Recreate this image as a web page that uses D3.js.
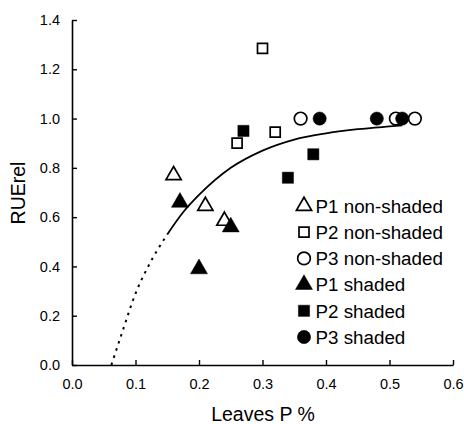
<!DOCTYPE html>
<html>
<head>
<script src="https://d3js.org/d3.v7.min.js"></script>
<style>
  body { margin: 0; background: #fff; }
  text { font-family: "Liberation Sans", Arial, sans-serif; fill: #000; }
</style>
</head>
<body>
<script>
// data
var p1Open   = [[0.16, 0.77], [0.21, 0.645], [0.24, 0.585]];
var p2Open   = [[0.30, 1.285], [0.26, 0.90], [0.32, 0.945]];
var p3Open   = [[0.36, 1.0], [0.51, 1.0], [0.54, 1.0]];
var p1Filled = [[0.17, 0.66], [0.20, 0.39], [0.25, 0.56]];
var p2Filled = [[0.27, 0.95], [0.34, 0.76], [0.38, 0.855]];
var p3Filled = [[0.39, 1.0], [0.48, 1.0], [0.52, 1.0]];

// fitted curve
var curveDotted = [[0.062, 0.0], [0.08, 0.14], [0.10, 0.29], [0.12, 0.40], [0.15, 0.53]];
var curveSolid  = [[0.15, 0.53], [0.175, 0.62], [0.2, 0.69], [0.25, 0.80], [0.3, 0.87],
                   [0.35, 0.915], [0.4, 0.94], [0.45, 0.957], [0.5, 0.968], [0.52, 0.972]];

var xTicks = [0, 0.1, 0.2, 0.3, 0.4, 0.5, 0.6];
var yTicks = [0, 0.2, 0.4, 0.6, 0.8, 1.0, 1.2, 1.4];
var legendLabels = ["P1 non-shaded", "P2 non-shaded", "P3 non-shaded",
                    "P1 shaded", "P2 shaded", "P3 shaded"];

var width = 464, height = 424;
var svg = d3.select("body").append("svg")
    .attr("width", width)
    .attr("height", height);

var x = d3.scaleLinear().domain([0, 0.6]).range([72, 453]);
var y = d3.scaleLinear().domain([0, 1.4]).range([365, 20]);

// axes, ticks inside
svg.append("g")
    .attr("transform", "translate(0,365)")
    .call(d3.axisBottom(x).tickValues(xTicks).tickSize(-5).tickSizeOuter(0)
        .tickPadding(14).tickFormat(d3.format(".1f")))
    .call(function(g) {
        g.select(".domain").attr("stroke-width", 1.6);
        g.selectAll(".tick line").attr("stroke-width", 1.4);
        g.selectAll("text").style("font-size", "14.5px").attr("fill", "#000");
    });

svg.append("g")
    .attr("transform", "translate(72,0)")
    .call(d3.axisLeft(y).tickValues(yTicks).tickSize(-5).tickSizeOuter(0)
        .tickPadding(12).tickFormat(d3.format(".1f")))
    .call(function(g) {
        g.select(".domain").attr("stroke-width", 1.6);
        g.selectAll(".tick line").attr("stroke-width", 1.4);
        g.selectAll("text").style("font-size", "14.5px").attr("fill", "#000");
    });

svg.append("text")
    .attr("x", 263)
    .attr("y", 421)
    .attr("text-anchor", "middle")
    .style("font-size", "19.5px")
    .text("Leaves P %");

svg.append("text")
    .attr("transform", "translate(25,193) rotate(-90)")
    .attr("text-anchor", "middle")
    .style("font-size", "19.5px")
    .text("RUErel");

// curve
var line = d3.line()
    .x(function(d) { return x(d[0]); })
    .y(function(d) { return y(d[1]); })
    .curve(d3.curveMonotoneX);

svg.append("path")
    .datum(curveDotted)
    .attr("d", line)
    .attr("fill", "none")
    .attr("stroke", "#000")
    .attr("stroke-width", 2)
    .attr("stroke-dasharray", "2.5,5");

svg.append("path")
    .datum(curveSolid)
    .attr("d", line)
    .attr("fill", "none")
    .attr("stroke", "#000")
    .attr("stroke-width", 1.8);

// marker styles
var groups = [
    { data: p1Open,   type: d3.symbolTriangle, size: 100, open: true },
    { data: p2Open,   type: d3.symbolSquare,   size: 100, open: true },
    { data: p3Open,   type: d3.symbolCircle,   size: 125, open: true },
    { data: p1Filled, type: d3.symbolTriangle, size: 125, open: false },
    { data: p2Filled, type: d3.symbolSquare,   size: 125, open: false },
    { data: p3Filled, type: d3.symbolCircle,   size: 138, open: false }
];

// draw points sorted by x so overlaps stack like the original
var pts = [];
groups.forEach(function(g, i) {
    g.data.forEach(function(d) { pts.push({ x: d[0], y: d[1], g: i }); });
});
pts.sort(function(a, b) { return a.x - b.x; });

function styleMarker(sel, g) {
    sel.attr("d", d3.symbol().type(g.type).size(g.size)())
        .attr("fill", g.open ? "#fff" : "#000")
        .attr("stroke", "#000")
        .attr("stroke-width", g.open ? 1.7 : 0.5);
}

svg.selectAll(".pt")
    .data(pts)
    .enter().append("path")
    .attr("class", "pt")
    .attr("transform", function(d) { return "translate(" + x(d.x) + "," + y(d.y) + ")"; })
    .each(function(d) { styleMarker(d3.select(this), groups[d.g]); });

// legend
var legend = svg.selectAll(".leg")
    .data(legendLabels)
    .enter().append("g")
    .attr("class", "leg")
    .attr("transform", function(d, i) { return "translate(304," + (206 + i * 26.2) + ")"; });

legend.append("path")
    .each(function(d, i) { styleMarker(d3.select(this), groups[i]); });

legend.append("text")
    .attr("x", 11.5)
    .attr("y", 6.7)
    .style("font-size", "18.8px")
    .text(function(d) { return d; });
</script>
</body>
</html>
